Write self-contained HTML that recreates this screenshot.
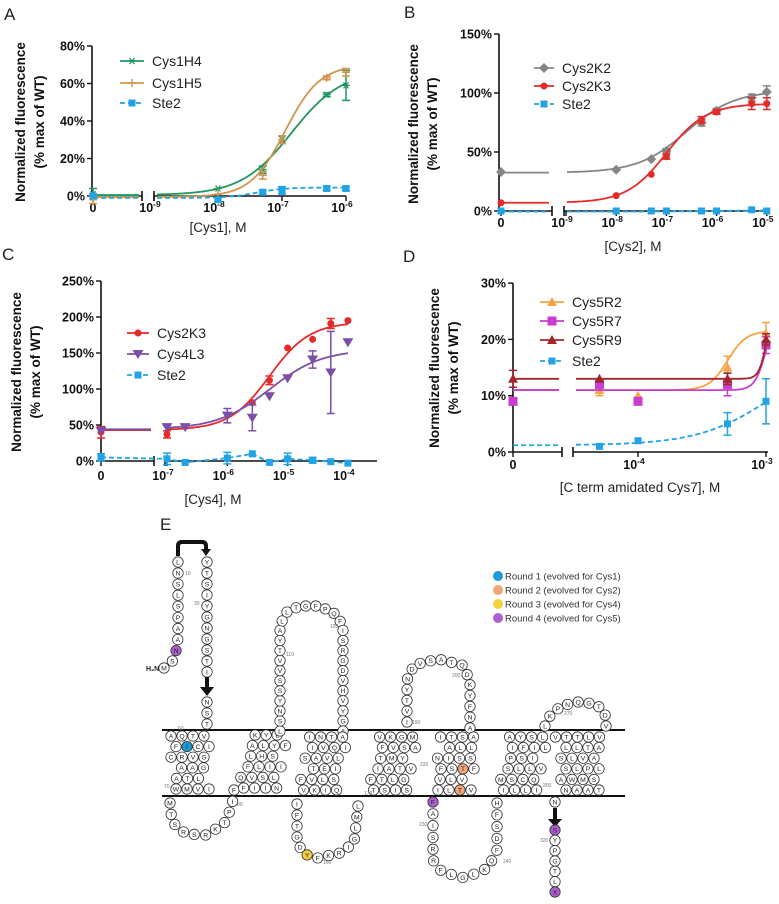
<!DOCTYPE html>
<html><head><meta charset="utf-8"><style>
html,body{margin:0;padding:0;background:#fff;}
svg{display:block;font-family:"Liberation Sans",Arial,sans-serif;}
</style></head><body>
<svg id="fig" width="779" height="904" viewBox="0 0 779 904" xmlns="http://www.w3.org/2000/svg">
<g id="root"></g>
</svg>
<script>
// ===== Panel A data =====
const aX = [0, 1e-8, 5e-8, 1e-7, 5e-7, 1e-6];
const aH4 = [1, 4, 14, 30, 54, 59];
const aH4err = [3, 0, 2, 2, 1, 8];
const aH5 = [-2, 1, 11, 30, 63, 66];
const aH5err = [2, 0, 2, 2, 1, 2];
const aSte = [0, -2, 2, 3, 4, 4];
const aSteErr = [0, 1, 1, 2, 1, 1];
const aH4fit = [0.5, 67, -6.85, 1.1];
const aH5fit = [-0.5, 70, -6.95, 1.6];
const aStefit = [-1, 4.5, -7.4, 2];
const aYTicks = [0, 20, 40, 60, 80];
const aXTicks = [-9, -8, -7, -6];
// ===== Panel B data =====
const bX = [0, 1e-8, 5e-8, 1e-7, 5e-7, 1e-6, 5e-6, 1e-5];
const bK2 = [33, 35, 44, 51, 75, 85, 96, 101];
const bK2err = [0, 0, 0, 2, 3, 2, 3, 5];
const bK3 = [7, 13, 31, 46, 77, 84, 91, 91];
const bK3err = [0, 0, 0, 2, 3, 2, 5, 5];
const bSte = [0, 0, 0, 0, 0, 0, 1, 0];
const bK2fit = [32.5, 102, -6.6, 0.9];
const bK3fit = [7, 91, -7.0, 1.1];
const bStefit = [-0.5, 0.5, -6, 1];
const bYTicks = [0, 50, 100, 150];
const bXTicks = [-9, -8, -7, -6, -5];
// ===== Panel C data =====
const cX = [0, 1e-7, 2e-7, 1e-6, 2.6e-6, 5e-6, 1e-5, 2.6e-5, 5.2e-5, 1e-4];
const cK3 = [40, 37, null, null, 81, 112, 157, 169, 191, 195];
const cK3err = [8, 5, 0, 0, 0, 6, 0, 0, 7, 0];
const cL3 = [42, 47, 47, 63, 60, 90, 115, 141, 123, 165];
const cL3err = [0, 0, 0, 10, 18, 0, 0, 12, 57, 0];
const cSte = [5, 3, -2, 4, 10, -2, 3, 1, -1, -3];
const cSteErr = [5, 8, 0, 8, 0, 0, 8, 4, 0, 0];
const cK3fit = [43, 193, -5.3, 1.3];
const cL3fit = [44, 155, -5.3, 1.0];
const cYTicks = [0, 50, 100, 150, 200, 250];
const cXTicks = [-7, -6, -5, -4];
// ===== Panel D data =====
const dX = [0, 5e-5, 1e-4, 5e-4, 1e-3];
const dR2 = [9, 11, 10, 15, 21];
const dR2err = [0, 1, 0, 2, 2];
const dR7 = [9, 12, 9, 12, 19];
const dR7err = [0, 1, 0, 2, 1.5];
const dR9 = [13, 13, null, 13, 20];
const dR9err = [1.5, 0, 0, 1, 1];
const dSte = [null, 1, 2, 5, 9];
const dSteErr = [0, 0, 0, 2, 4];
const dR2fit = [11, 21.5, -3.3, 6];
const dR7fit = [11, 25, -3.0, 10];
const dR9fit = [13, 25, -3.0, 15];
const dStefit = [1.2, 18, -2.95, 1.5];
const dYTicks = [0, 10, 20, 30];
const dXTicks = [-4, -3];

const NS = 'http://www.w3.org/2000/svg';
const root = document.getElementById('root');
function mk(tag, attrs, parent) {
  const e = document.createElementNS(NS, tag);
  for (const k in attrs) e.setAttribute(k, attrs[k]);
  (parent || root).appendChild(e);
  return e;
}
function hill(f, lx) { return f[0] + (f[1] - f[0]) / (1 + Math.pow(10, (f[2] - lx) * f[3])); }

function marker(g, shape, x, y, col) {
  let m;
  if (shape === 'square') m = mk('rect', {x: x - 3.5, y: y - 3.5, width: 7, height: 7, fill: col}, g);
  else if (shape === 'bigsquare') m = mk('rect', {x: x - 4.5, y: y - 4.5, width: 9, height: 9, fill: col}, g);
  else if (shape === 'circle') m = mk('circle', {cx: x, cy: y, r: 3.5, fill: col}, g);
  else if (shape === 'diamond') m = mk('path', {d: `M${x},${y-5}L${x+5},${y}L${x},${y+5}L${x-5},${y}Z`, fill: col}, g);
  else if (shape === 'tridown') m = mk('path', {d: `M${x-5.5},${y-4}L${x+5.5},${y-4}L${x},${y+5}Z`, fill: col}, g);
  else if (shape === 'triup') m = mk('path', {d: `M${x-5},${y+4}L${x+5},${y+4}L${x},${y-5}Z`, fill: col}, g);
  else if (shape === 'plus') m = mk('path', {d: `M${x-4},${y}H${x+4}M${x},${y-4}V${y+4}`, stroke: col, 'stroke-width': 1.5}, g);
  else m = mk('path', {d: `M${x-4},${y}H${x+4}M${x-2.5},${y-3}L${x+2.5},${y+3}M${x-2.5},${y+3}L${x+2.5},${y-3}`, stroke: col, 'stroke-width': 1.3}, g);
  
  
}

function panel(p) {
  const g = mk('g', {});
  
  
  const X = v => v === 0 ? p.xz : p.xd0 + (Math.log10(v) - p.d0) * p.pxd;
  const Y = v => p.y0 - v * p.ppu;
  const L = mk('text', {x: p.lx, y: p.ly, 'font-size': 17, fill: '#222'}, g);
  L.textContent = p.letter;
  
  
  const yt = mk('text', {transform: `translate(${p.ytx},${p.yty}) rotate(-90)`, 'text-anchor': 'middle', 'font-size': 13.5, 'font-weight': 'bold', fill: '#111'}, g);
  
  
  const t1 = mk('tspan', {x: 0, y: 0}, yt); t1.textContent = 'Normalized fluorescence';
  const t2 = mk('tspan', {x: 0, y: 19}, yt); t2.textContent = '(% max of WT)';
  const ya = mk('line', {x1: p.xax, y1: p.y0, x2: p.xax, y2: Y(p.yTicks[p.yTicks.length - 1]), stroke: '#111', 'stroke-width': 1.6}, g);
  
  
  p.yTicks.forEach(v => {
    mk('line', {x1: p.xax - 5, y1: Y(v), x2: p.xax, y2: Y(v), stroke: '#111', 'stroke-width': 1.4}, g);
    const t = mk('text', {x: p.xax - 7, y: Y(v) + 4.5, 'text-anchor': 'end', 'font-size': 12.5, 'font-weight': 'bold', fill: '#111'}, g);
    t.textContent = v + '%';
    
    
  });
  const xa1 = mk('line', {x1: p.xax, y1: p.y0, x2: p.bl, y2: p.y0, stroke: '#111', 'stroke-width': 1.6}, g);
  
  
  const xa2 = mk('line', {x1: p.br, y1: p.y0, x2: p.xend, y2: p.y0, stroke: '#111', 'stroke-width': 1.6}, g);
  
  
  [p.bl, p.br].forEach(bx => mk('line', {x1: bx, y1: p.y0 - 5, x2: bx, y2: p.y0 + 5, stroke: '#111', 'stroke-width': 1.6}, g));
  const z = mk('text', {x: p.xz, y: p.y0 + p.tly, 'text-anchor': 'middle', 'font-size': 12.5, 'font-weight': 'bold', fill: '#111'}, g);
  z.textContent = '0';
  
  
  mk('line', {x1: p.xz, y1: p.y0, x2: p.xz, y2: p.y0 + 5, stroke: '#111', 'stroke-width': 1.4}, g);
  p.xTicks.forEach(d => {
    const x = p.xd0 + (d - p.d0) * p.pxd;
    mk('line', {x1: x, y1: p.y0, x2: x, y2: p.y0 + 5, stroke: '#111', 'stroke-width': 1.4}, g);
    const t = mk('text', {x: x - 4, y: p.y0 + p.tly, 'text-anchor': 'middle', 'font-size': 12.5, 'font-weight': 'bold', fill: '#111'}, g);
    t.textContent = '10';
    const s = mk('tspan', {dy: -5, 'font-size': 8.5}, t); s.textContent = String(d);
    
    
  });
  const xt = mk('text', {x: p.xtx, y: p.xty, 'text-anchor': 'middle', 'font-size': 13.5, fill: '#222'}, g);
  xt.textContent = p.xtitle;
  
  
  p.series.forEach((s, si) => {
    const sg = mk('g', {}, g);
    
    
    const dash = s.dashed ? '5,3' : 'none';
    if (s.fit) {
      const yb = Y(hill(s.fit, -20));
      mk('path', {d: `M${p.xz},${yb}H${p.bl - 3}`, stroke: s.col, 'stroke-width': 1.8, fill: 'none', 'stroke-dasharray': dash}, sg);
      const l0 = p.d0 + (p.br + 3 - p.xd0) / p.pxd;
      const l1 = Math.log10(s.xs[s.xs.length - 1]);
      let d = '';
      for (let i = 0; i <= 80; i++) {
        const lx = l0 + (l1 - l0) * i / 80;
        d += (i ? 'L' : 'M') + (p.xd0 + (lx - p.d0) * p.pxd).toFixed(1) + ',' + Y(hill(s.fit, lx)).toFixed(1);
      }
      mk('path', {d, stroke: s.col, 'stroke-width': 1.8, fill: 'none', 'stroke-dasharray': dash}, sg);
    } else {
      let d = '';
      s.xs.forEach((xv, i) => { if (s.ys[i] !== null) d += (d ? 'L' : 'M') + X(xv) + ',' + Y(s.ys[i]); });
      mk('path', {d, stroke: s.col, 'stroke-width': 1.8, fill: 'none', 'stroke-dasharray': dash}, sg);
    }
    s.xs.forEach((xv, i) => {
      const v = s.ys[i];
      if (v === null) return;
      const e = s.err ? s.err[i] : 0;
      if (e) {
        const x = X(xv);
        const eb = mk('path', {d: `M${x},${Y(v - e)}V${Y(v + e)}M${x - 4},${Y(v - e)}H${x + 4}M${x - 4},${Y(v + e)}H${x + 4}`, stroke: s.col, 'stroke-width': 1.5, fill: 'none'}, sg);
        
        
      }
      marker(sg, s.shape, X(xv), Y(v), s.col);
    });
    const ly = p.legY[si];
    const lg = mk('g', {}, g);
    
    
    mk('line', {x1: p.legX, y1: ly, x2: p.legX + p.legW, y2: ly, stroke: s.col, 'stroke-width': 1.8, 'stroke-dasharray': dash}, lg);
    marker(lg, s.shape, p.legX + p.legW / 2, ly, s.col);
    const lt = mk('text', {x: p.legX + p.legW + 8, y: ly + 5, 'font-size': 14, fill: '#222'}, lg);
    lt.textContent = s.label;
  });
}

const GREEN = '#1f9660', TAN = '#d2954c', BLUE = '#21a3e6', GRAY = '#858585', RED = '#e52a2a', PURP = '#7a4fa6';
panel({name: 'panel-a', letter: 'A', lx: 4, ly: 20, ytx: 25, yty: 122, xax: 92, xz: 93, bl: 142, br: 154, xend: 346, d0: -9, xd0: 154, pxd: 64,
  y0: 196, ppu: 1.875, yTicks: aYTicks, xTicks: aXTicks, tly: 16, xtitle: '[Cys1], M', xtx: 218, xty: 232,
  legX: 120, legW: 24, legY: [61, 83, 103],
  series: [
    {label: 'Cys1H4', xs: aX, ys: aH4, err: aH4err, fit: aH4fit, col: GREEN, shape: 'star'},
    {label: 'Cys1H5', xs: aX, ys: aH5, err: aH5err, fit: aH5fit, col: TAN, shape: 'plus'},
    {label: 'Ste2', xs: aX, ys: aSte, err: aSteErr, fit: aStefit, col: BLUE, shape: 'square', dashed: true}
  ]});
panel({name: 'panel-b', letter: 'B', lx: 404, ly: 18, ytx: 418, yty: 124, xax: 499, xz: 501, bl: 552, br: 564, xend: 770, d0: -9, xd0: 566, pxd: 50.2,
  y0: 211, ppu: 1.18, yTicks: bYTicks, xTicks: bXTicks, tly: 16, xtitle: '[Cys2], M', xtx: 633, xty: 251,
  legX: 534, legW: 20, legY: [68, 86, 104],
  series: [
    {label: 'Cys2K2', xs: bX, ys: bK2, err: bK2err, fit: bK2fit, col: GRAY, shape: 'diamond'},
    {label: 'Cys2K3', xs: bX, ys: bK3, err: bK3err, fit: bK3fit, col: RED, shape: 'circle'},
    {label: 'Ste2', xs: bX, ys: bSte, err: null, fit: bStefit, col: BLUE, shape: 'square', dashed: true}
  ]});
panel({name: 'panel-c', letter: 'C', lx: 2, ly: 260, ytx: 21, yty: 372, xax: 101, xz: 101, bl: 154, br: 165, xend: 377, d0: -7, xd0: 167, pxd: 60.3,
  y0: 461, ppu: 0.72, yTicks: cYTicks, xTicks: cXTicks, tly: 19, xtitle: '[Cys4], M', xtx: 213, xty: 504,
  legX: 127, legW: 22, legY: [333, 354, 375],
  series: [
    {label: 'Cys2K3', xs: cX, ys: cK3, err: cK3err, fit: cK3fit, col: RED, shape: 'circle'},
    {label: 'Cys4L3', xs: cX, ys: cL3, err: cL3err, fit: cL3fit, col: PURP, shape: 'tridown'},
    {label: 'Ste2', xs: cX, ys: cSte, err: cSteErr, fit: null, col: BLUE, shape: 'square', dashed: true}
  ]});
panel({name: 'panel-d', letter: 'D', lx: 403, ly: 262, ytx: 439, yty: 368, xax: 513, xz: 513, bl: 562, br: 573, xend: 768, d0: -4, xd0: 638, pxd: 128,
  y0: 452, ppu: 5.63, yTicks: dYTicks, xTicks: dXTicks, tly: 17, xtitle: '[C term amidated Cys7], M', xtx: 640, xty: 492,
  legX: 540, legW: 24, legY: [302, 321, 340, 361],
  series: [
    {label: 'Cys5R2', xs: dX, ys: dR2, err: dR2err, fit: dR2fit, col: '#f4a443', shape: 'triup'},
    {label: 'Cys5R7', xs: dX, ys: dR7, err: dR7err, fit: dR7fit, col: '#c93ccf', shape: 'bigsquare'},
    {label: 'Cys5R9', xs: dX, ys: dR9, err: dR9err, fit: dR9fit, col: '#a3262b', shape: 'triup'},
    {label: 'Ste2', xs: dX, ys: dSte, err: dSteErr, fit: dStefit, col: BLUE, shape: 'square', dashed: true}
  ]});

// ===== Panel E: snake plot =====
const E = mk('g', {});


const eL = mk('text', {x: 160, y: 530, 'font-size': 17, fill: '#222'}, E);
eL.textContent = 'E';


const m1 = mk('line', {x1: 162, y1: 730, x2: 625, y2: 730, stroke: '#111', 'stroke-width': 2}, E);


const m2 = mk('line', {x1: 162, y1: 796, x2: 625, y2: 796, stroke: '#111', 'stroke-width': 2}, E);



const FILL = {b: '#1e9bd7', o: '#f2a57a', y: '#f7d040', p: '#ad5fcf'};
function residue(x, y, ch, col) {
  const c = mk('circle', {cx: x, cy: y, r: 5.2, fill: col ? FILL[col] : '#fff', stroke: '#333', 'stroke-width': 0.8}, E);
  
  
  const t = mk('text', {x: x, y: y + 2.4, 'text-anchor': 'middle', 'font-size': 6.8, fill: '#222'}, E);
  t.textContent = ch;
}
function chain(pts, letters, colors) {
  const seg = [];
  let total = 0;
  for (let i = 1; i < pts.length; i++) {
    const l = Math.hypot(pts[i][0] - pts[i - 1][0], pts[i][1] - pts[i - 1][1]);
    seg.push(l); total += l;
  }
  const n = letters.length;
  for (let k = 0; k < n; k++) {
    let d = n === 1 ? 0 : total * k / (n - 1);
    let i = 0;
    while (i < seg.length - 1 && d > seg[i]) { d -= seg[i]; i++; }
    const f = seg[i] ? Math.min(1, d / seg[i]) : 0;
    const x = pts[i][0] + (pts[i + 1][0] - pts[i][0]) * f;
    const y = pts[i][1] + (pts[i + 1][1] - pts[i][1]) * f;
    residue(x, y, letters[k], colors && colors[k]);
  }
}
function cluster(cx, top, rows, slant, colors) {
  rows.forEach((r, ri) => {
    const y = top + ri * 10.6;
    const off = (ri % 2 ? 5 : 0) + (rows.length / 2 - ri) * slant;
    for (let j = 0; j < r.length; j++) {
      const x = cx - (r.length - 1) * 5.5 + j * 11 + off - 2.5;
      residue(x, y, r[j], colors && colors[ri + ',' + j]);
    }
  });
}
function arrow(d, head) {
  const a = mk('path', {d, stroke: '#111', 'stroke-width': 4, fill: 'none'}, E);
  
  
  mk('path', {d: head, fill: '#111'}, E);
}
const h2n = mk('text', {x: 146, y: 671, 'font-size': 7, 'font-weight': 'bold', fill: '#222'}, E);
h2n.textContent = 'H₂N–';
chain([[164, 668], [172, 662], [176, 651], [178, 638], [178, 562]], 'MSNAAPSLSNL', {2: 'p'});
arrow('M178,556V546Q178,542 182,542H202Q206,542 206,546V550', 'M201,549H211L206,556Z');
chain([[207, 562], [207, 672]], 'YTSIYGNGSTI');
arrow('M207,677V688', 'M200,687H214L207,696Z');
chain([[207, 702], [207, 724]], 'NST');
cluster(190, 736, ['AQTV', 'FICI', 'CRVG', 'AAG', 'ATL', 'WMVI'], 0, {'1,1': 'b'});
chain([[170, 803], [172, 822], [186, 834], [206, 835], [224, 824], [232, 806], [234, 790]], 'MTSRSRKTPIF');
cluster(262, 735, ['KYL', 'ALYF', 'LHS', 'FLII', 'QVSL', 'FIIN'], 2.2);
chain([[280, 731], [280, 625], [287, 612], [300, 606], [318, 606], [333, 612], [343, 625], [343, 731]], 'LSNYSSVVTYALLTGFPQFISRGDVHVYGA');
cluster(322, 737, ['INTA', 'IVQI', 'SAVL', 'TEI', 'FVLS', 'VKIQ'], 2.2);
chain([[297, 804], [297, 842], [304, 854], [318, 858], [340, 853], [354, 843], [358, 806]], 'IFTGDYFKRIGLML', {5: 'y'});
cluster(392, 737, ['VKGM', 'FVSA', 'TMY', 'IATV', 'FTLG', 'TSIS'], 2.2);
chain([[407, 722], [407, 680], [414, 665], [438, 659], [462, 665], [470, 680], [470, 728]], 'IVTYNDVSATQDKYFNA');
cluster(455, 737, ['ITSA', 'ALL', 'NISS', 'FSTF', 'VLV', 'ILTV'], 1.5, {'3,2': 'o', '5,2': 'o'});
chain([[433, 802], [433, 860], [442, 872], [465, 878], [488, 868], [497, 850], [497, 803]], 'FAISRRFLGLKQFDSFH', {0: 'p'});
cluster(522, 737, ['AYSL', 'IFIL', 'PSI', 'SLLV', 'MSCQ', 'ILLI'], 2.2);
chain([[545, 726], [550, 716], [561, 706], [578, 702], [596, 704], [605, 713], [606, 726]], 'LKPNQGTDV');
cluster(580, 737, ['VTTLV', 'LLTA', 'SLVA', 'SLPL', 'AWMS', 'NAAT'], 0);
chain([[555, 802], [555, 802]], 'N');
arrow('M555,808V820', 'M548,819H562L555,827Z');
chain([[555, 830], [555, 892]], 'SYPGTLX', {0: 'p', 6: 'p'});
[['10', 185, 575], ['30', 194, 605], ['110', 286, 656], ['120', 330, 628], ['190', 412, 724], ['200', 452, 677], ['220', 420, 766], ['230', 419, 826], ['240', 503, 863], ['270', 564, 715], ['300', 543, 787], ['320', 540, 842], ['60', 178, 730], ['70', 164, 788], ['80', 237, 806], ['160', 323, 864], ['170', 364, 795]].forEach(n => {
  const t = mk('text', {x: n[1], y: n[2], 'font-size': 5, fill: '#777'}, E);
  t.textContent = n[0];
});
const LEG = [['b', 'Round 1 (evolved for Cys1)'], ['o', 'Round 2 (evolved for Cys2)'], ['y', 'Round 3 (evolved for Cys4)'], ['p', 'Round 4 (evolved for Cys5)']];
LEG.forEach((l, i) => {
  const lg = mk('g', {}, E);
  
  
  mk('circle', {cx: 498, cy: 576 + i * 14, r: 5, fill: FILL[l[0]]}, lg);
  const t = mk('text', {x: 505, y: 579.5 + i * 14, 'font-size': 9.5, fill: '#333'}, lg);
  t.textContent = l[1];
});
</script>
</body></html>
